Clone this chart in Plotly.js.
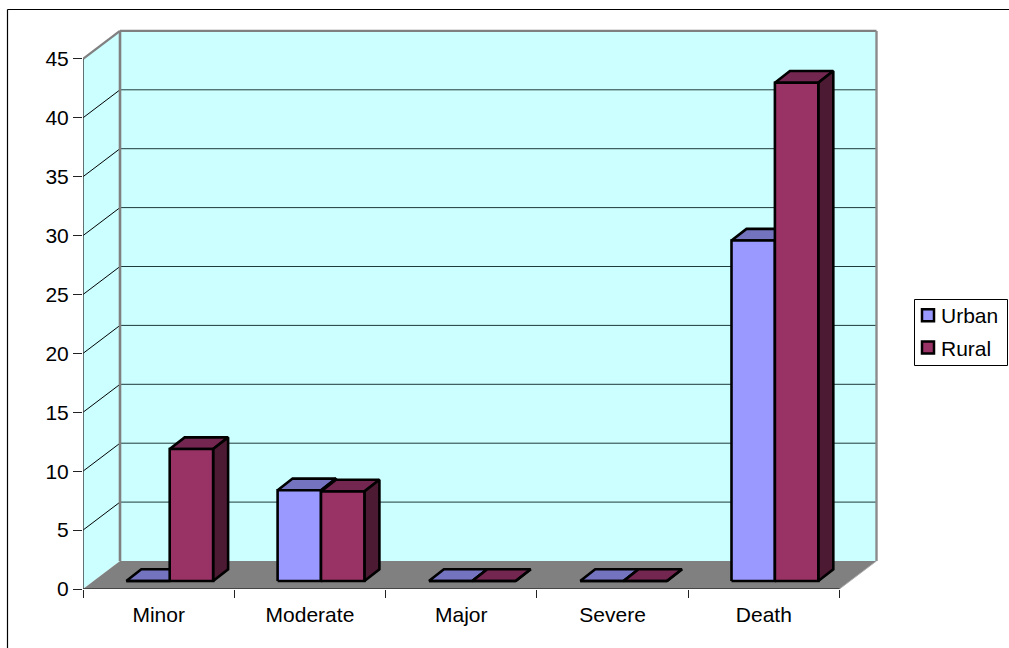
<!DOCTYPE html>
<html><head><meta charset="utf-8">
<script src="https://cdn.plot.ly/plotly-3.0.1.min.js"></script>
<style>html,body{margin:0;padding:0;background:#fff;overflow:hidden}</style>
</head><body><div id="chart" style="width:1009px;height:648px"></div>
<script>
const categories = ["Minor","Moderate","Major","Severe","Death"];
const urban = [0, 7.7, 0, 0, 28.9];
const rural = [11.2, 7.6, 0, 0, 42.3];
const yTicks = [0,5,10,15,20,25,30,35,40,45];

// Oblique-projection constants, in axis units (1 category, 1 y unit)
const W=1009,H=648;
const M={l:83,r:0,t:28,b:59,autoexpand:false};
const pxX=151.3, pxY=11.78;
const xMax=(W-M.l-M.r)/pxX, yMax=(H-M.t-M.b)/pxY;
const wallDX=37/pxX, wallDY=28/pxY;     // depth of the floor
const barDX=15/pxX, barDY=11.7/pxY;     // depth of a bar
const baseDY=8/pxY;                     // bars stand inside the floor
const gapX=43.3/pxX, barW=43.4/pxX;

function faces(values, j){
  const top={x:[],y:[]},side={x:[],y:[]},front={x:[],y:[]};
  const add=(o,pts)=>{pts.forEach(p=>{o.x.push(p[0]);o.y.push(p[1]);});o.x.push(null);o.y.push(null);};
  values.forEach((v,i)=>{
    const x0=i+gapX+j*barW,x1=x0+barW,b=baseDY,t=b+v;
    add(top,[[x0,t],[x1,t],[x1+barDX,t+barDY],[x0+barDX,t+barDY],[x0,t]]);
    add(side,[[x1,b],[x1+barDX,b+barDY],[x1+barDX,t+barDY],[x1,t],[x1,b]]);
    add(front,[[x0,b],[x1,b],[x1,t],[x0,t],[x0,b]]);
  });
  return {top,side,front};
}
function faceTrace(o,color){
  return {type:"scatter",mode:"lines",x:o.x,y:o.y,fill:"toself",fillcolor:color,
    line:{color:"#000",width:2.6,simplify:false},hoverinfo:"skip",showlegend:false,cliponaxis:false};
}
const u=faces(urban,0), r=faces(rural,1);
const traces=[
  faceTrace(u.top,"#7373BF"),faceTrace(u.side,"#4D4D80"),faceTrace(u.front,"#9999FF"),
  faceTrace(r.top,"#732650"),faceTrace(r.side,"#4D1A33"),faceTrace(r.front,"#993366"),
  {type:"scatter",mode:"markers",name:"Urban",legendgroup:"a",x:[null],y:[null],
   marker:{symbol:"square",size:12,color:"#9999FF",line:{color:"#000",width:2.5}}},
  {type:"scatter",mode:"markers",name:"Rural",legendgroup:"b",x:[null],y:[null],
   marker:{symbol:"square",size:12,color:"#993366",line:{color:"#000",width:2.5}}}
];

const shapes=[];
const poly=(pts,fill)=>shapes.push({type:"path",layer:"below",xref:"x",yref:"y",
  path:"M"+pts.map(p=>p.join(",")).join("L")+"Z",fillcolor:fill,line:{width:0}});
const seg=(x0,y0,x1,y1,c,w)=>shapes.push({type:"line",layer:"below",xref:"x",yref:"y",
  x0,y0,x1,y1,line:{color:c,width:w}});
const yT=yTicks[yTicks.length-1], xT=categories.length;
poly([[wallDX,wallDY],[xT+wallDX,wallDY],[xT+wallDX,yT+wallDY],[wallDX,yT+wallDY]],"#CCFFFF");
poly([[0,0],[wallDX,wallDY],[wallDX,yT+wallDY],[0,yT]],"#CCFFFF");
poly([[0,0],[xT,0],[xT+wallDX,wallDY],[wallDX,wallDY]],"#808080");
yTicks.slice(1,-1).forEach(v=>{
  seg(0,v,wallDX,v+wallDY,"#000",1);
  seg(wallDX,v+wallDY,xT+wallDX,v+wallDY,"#1f3a3a",1);
});
seg(0,yT,wallDX,yT+wallDY,"#808080",2.4);
seg(wallDX,yT+wallDY,xT+wallDX,yT+wallDY,"#808080",2.4);
seg(wallDX,wallDY,wallDX,yT+wallDY,"#808080",2.6);
seg(xT+wallDX,wallDY,xT+wallDX,yT+wallDY,"#8c8c8c",2.4);
seg(xT,0,xT+wallDX,wallDY,"#b0b0b0",1);
seg(0,0,0,yT,"#333",1.4);
seg(0,0,xT,0,"#333",1.4);

// Chart-area border and legend box, placed relative to the paper
const pw=W-M.l-M.r, ph=H-M.t-M.b;
const PX=x=>(x-M.l)/pw, PY=y=>(H-M.b-y)/ph;
const border=(x0,y0,x1,y1,w)=>shapes.push({type:"line",xref:"paper",yref:"paper",layer:"above",
  x0:PX(x0),y0:PY(y0),x1:PX(x1),y1:PY(y1),line:{color:"#000",width:w}});
border(7.5,9.5,1009,9.5,1.2);
border(7.5,9.5,7.5,648,1.2);
shapes.push({type:"rect",xref:"paper",yref:"paper",layer:"above",
  x0:PX(914.5),x1:PX(1007.5),y0:PY(299.5),y1:PY(365.5),line:{color:"#000",width:1},fillcolor:"rgba(0,0,0,0)"});

const font={family:"Liberation Sans, Arial, sans-serif",size:21,color:"#000"};
const layout={
  width:W,height:H,margin:M,paper_bgcolor:"#fff",plot_bgcolor:"rgba(0,0,0,0)",font,
  showlegend:true,
  legend:{x:PX(908),xanchor:"left",y:PY(295),yanchor:"top",bgcolor:"rgba(0,0,0,0)",borderwidth:0,
    tracegroupgap:2,itemclick:false,itemdoubleclick:false,font},
  xaxis:{range:[0,xMax],showgrid:false,zeroline:false,showline:false,
    tickmode:"array",tickvals:categories.map((c,i)=>i+0.5),ticktext:categories,ticks:"",
    ticklabelstandoff:11,tickfont:font,
    minor:{tickmode:"array",tickvals:categories.map((c,i)=>i).concat([categories.length]),
      ticks:"outside",ticklen:8,tickwidth:1,tickcolor:"#222",showgrid:false}},
  yaxis:{range:[0,yMax],showgrid:false,zeroline:false,showline:false,
    tickmode:"array",tickvals:yTicks,ticktext:yTicks.map(String),ticks:"outside",ticklen:9,tickwidth:1,
    tickcolor:"#222",tickfont:font,ticklabelstandoff:0},
  shapes
};
Plotly.newPlot("chart",traces,layout,{displayModeBar:false,responsive:false}).then(()=>{
  document.querySelectorAll(".legendtext").forEach(t=>t.setAttribute("x",33));
});
</script></body></html>
